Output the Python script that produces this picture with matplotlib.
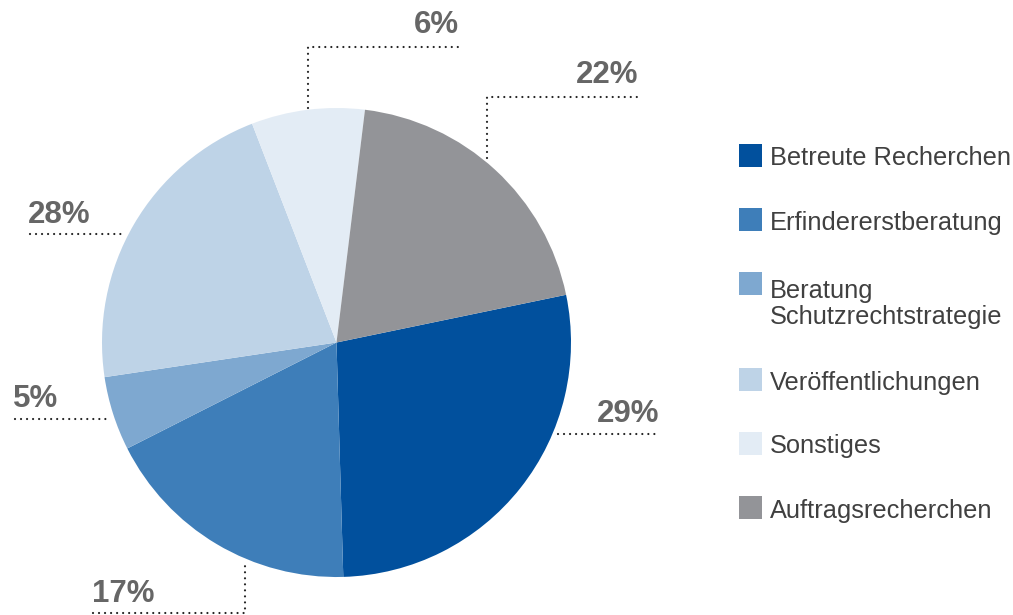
import matplotlib.pyplot as plt
from matplotlib.patches import Rectangle

# slice sizes as drawn (in % of the circle)
categories = ['Betreute Recherchen', 'Erfindererstberatung', 'Beratung\nSchutzrechtstrategie',
              'Veröffentlichungen', 'Sonstiges', 'Auftragsrecherchen']
shares = [27.8, 18.0, 5.1, 21.5, 7.8, 19.8]
# percentages printed next to the pie
pct_labels = [29, 17, 5, 28, 6, 22]
colors = ['#01509d', '#3e7eb9', '#7ea8d0', '#bed3e7', '#e3ecf5', '#939498']

W, H = 1013, 615


def fy(y):
    # image row -> axes y (y up)
    return H - y


fig = plt.figure(figsize=(W / 100, H / 100), dpi=100)
ax = fig.add_axes([0, 0, 1, 1])

ax.pie(shares, colors=colors, startangle=11.74, counterclock=False,
       center=(336.5, fy(342.5)), radius=234.5, frame=True,
       wedgeprops=dict(linewidth=0))
ax.set_xlim(0, W)
ax.set_ylim(0, H)
ax.axis('off')

''' Leader lines + labels '''
dot = dict(color='#222222', lw=1.6, ls=(0, (0.01, 2.7)), dash_capstyle='round')
# (polyline in image px, label x, label baseline, alignment)
leaders = [
    ([(558, 434), (659, 434)], 659, 422, 'right'),           # 29%
    ([(93, 612.5), (245, 612.5), (245, 563)], 92, 602, 'left'),  # 17%
    ([(15, 419), (110, 419)], 13, 407, 'left'),              # 5%
    ([(30, 234), (126, 234)], 28, 223, 'left'),              # 28%
    ([(308, 108), (308, 46.5), (460, 46.5)], 459, 33, 'right'),  # 6%
    ([(487, 158), (487, 96.5), (640, 96.5)], 638, 83, 'right'),  # 22%
]
for pct, (pts, tx, ty, ha) in zip(pct_labels, leaders):
    xs = [p[0] for p in pts]
    ys = [fy(p[1]) for p in pts]
    ax.plot(xs, ys, **dot)
    ax.text(tx, fy(ty), f'{pct}%', ha=ha, va='baseline', fontsize=22.5,
            fontweight='bold', color='#666666', family='Liberation Sans')

''' Legend '''
sq_top = [144, 208, 272, 368, 432, 496]
# baseline of the last text line of each entry
baselines = [165, 230, 324, 390, 453, 518]
for cat, col, top, base in zip(categories, colors, sq_top, baselines):
    ax.add_patch(Rectangle((739, fy(top + 23)), 23, 23, facecolor=col, edgecolor='none'))
    ax.text(770, fy(base), cat, ha='left', va='baseline', fontsize=18.3,
            color='#404040', family='Liberation Sans', linespacing=1.1)

fig.savefig('out.png', dpi=100)
